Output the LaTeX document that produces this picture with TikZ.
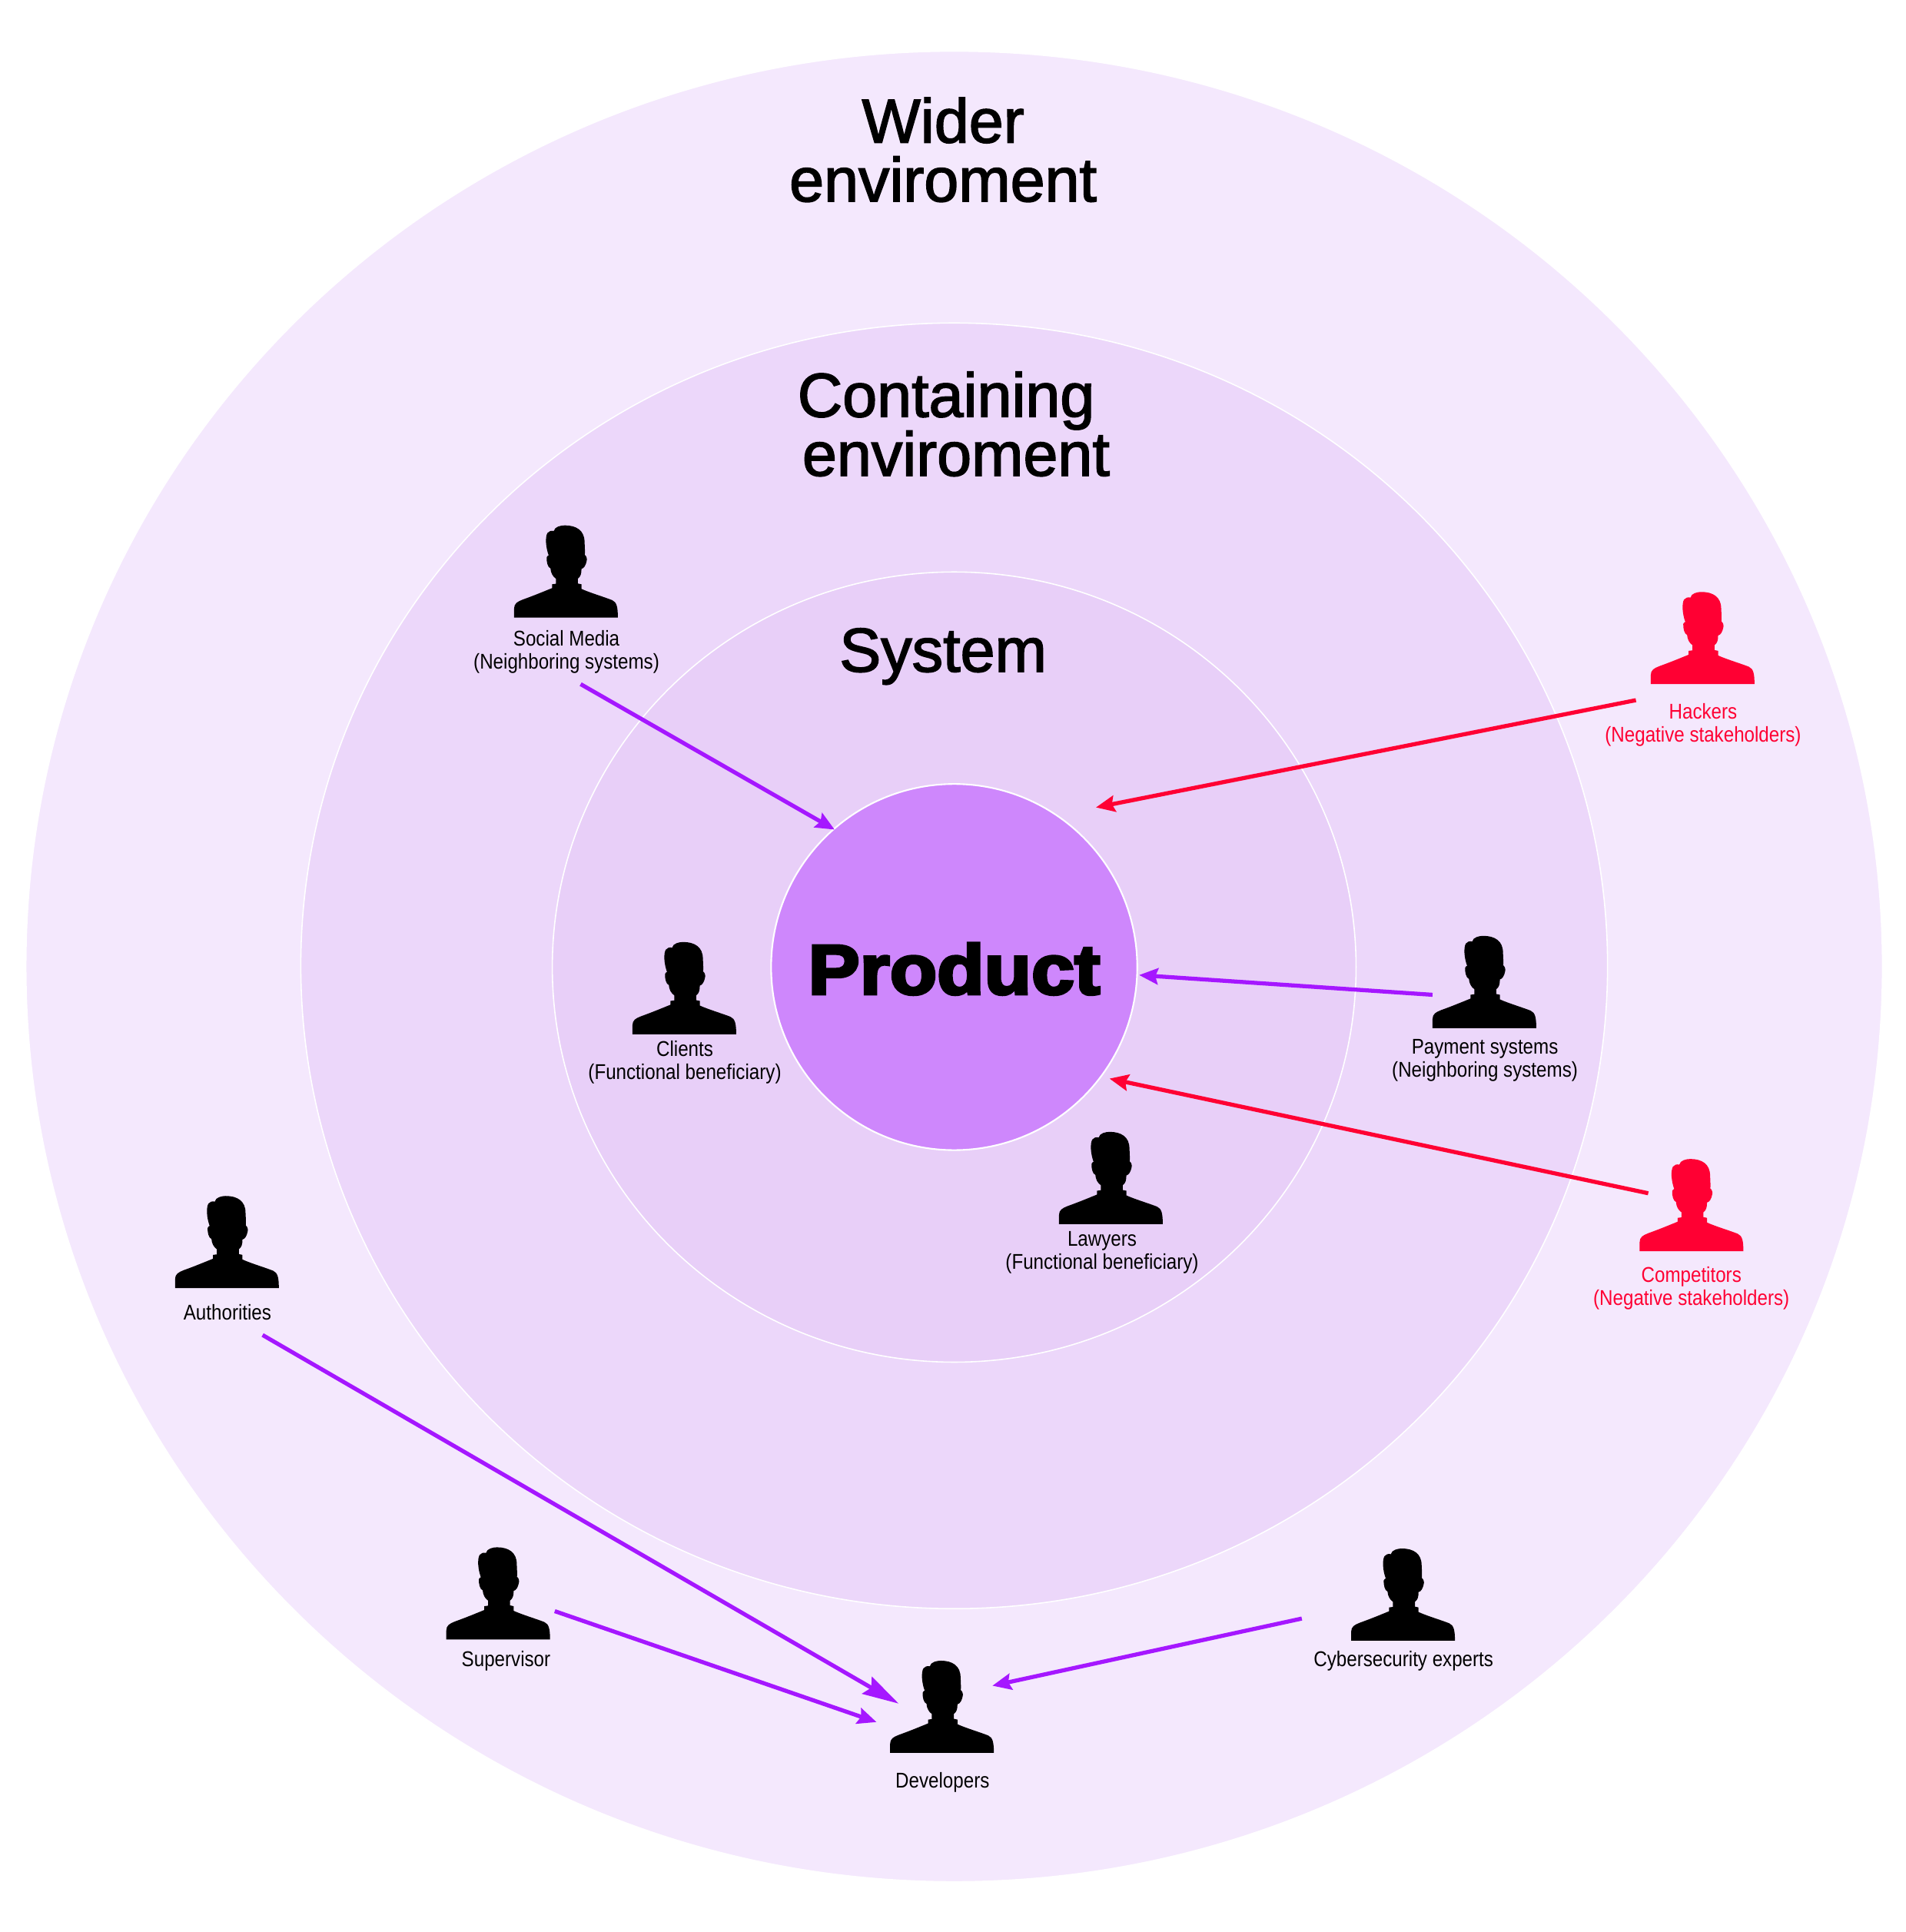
\documentclass[tikz,border=0pt]{standalone}
\usepackage{fontspec}
\usetikzlibrary{arrows.meta}
\setmainfont{Liberation Sans}
\newfontfamily\labfont[FakeStretch=0.87]{Liberation Sans}
\newfontfamily\headfont[FakeBold=2]{Liberation Sans}
\newfontfamily\prodfont[FakeBold=4.2,FakeStretch=1.1]{Liberation Sans Bold}
\definecolor{wider}{HTML}{F4E8FD}
\definecolor{contain}{HTML}{ECD7FA}
\definecolor{sys}{HTML}{E8CFF8}
\definecolor{prod}{HTML}{CE87FC}
\definecolor{arrowp}{HTML}{A517FF}
\definecolor{arrowr}{HTML}{FF0033}
\tikzset{
  x=0.01604cm,y=-0.01604cm,
  ring/.style={draw=white,line width=0.45pt},
  lab/.style={font=\labfont\fontsize{7.9}{8.6}\selectfont,align=center,inner sep=0pt},
  neg/.style={lab,text=arrowr},
  head/.style={font=\headfont\fontsize{23}{21.8}\selectfont,align=center,inner sep=0pt},
  link/.style={arrowp,line width=1.5pt,-{Stealth[length=7pt,width=6pt,inset=1pt]}},
  biglink/.style={arrowp,line width=1.5pt,-{Stealth[length=13.5pt,width=7.2pt,inset=1.8pt]}},
  neglink/.style={link,draw=arrowr,arrowr},
  pics/person/.style={code={
    \fill[#1,scale=0.2078,shift={(-409,-490)}]
    (207,490) -- (207,455) .. controls (207,435) and (220,428) .. (240,420)
    .. controls (290,402) and (330,385) .. (355,375) -- (355,360) -- (370,358) -- (370,338)
    .. controls (358,330) and (350,315) .. (349,298)
    .. controls (338,295) and (333,270) .. (334,255)
    .. controls (335,250) and (340,248) .. (342,247)
    .. controls (330,215) and (328,175) .. (337,160)
    .. controls (342,152) and (352,150) .. (362,152)
    .. controls (365,135) and (390,130) .. (405,130)
    .. controls (450,130) and (482,150) .. (482,195)
    .. controls (483,215) and (484,235) .. (483,245)
    .. controls (490,250) and (493,262) .. (490,270)
    .. controls (487,285) and (480,298) .. (470,300)
    .. controls (470,318) and (467,330) .. (456,338) -- (456,357) -- (470,360) -- (470,378)
    .. controls (500,392) and (560,410) .. (590,422)
    .. controls (608,430) and (612,450) .. (612,490) -- cycle;
  }}
}
\begin{document}
\begin{tikzpicture}
\useasboundingbox (0,0) rectangle (1546.1,1567.3);
\fill[white] (0,0) rectangle (1546.1,1567.3);
% rings
\path[ring,fill=wider] (774,784) ellipse [x radius=753,y radius=742.5];
\path[ring,fill=contain] (774,783.5) ellipse [x radius=530,y radius=521.5];
\path[ring,fill=sys] (774,784.5) ellipse [x radius=326,y radius=320.5];
\path[ring,fill=prod,line width=0.6pt] (774,784.5) circle [radius=148.5];
% headings
\node[head] (hwider) at (765,121.5) {Wider\\enviroment};
\node[head] (hcontain) at (775.5,344) {Containing\hspace*{7.3pt}\\enviroment};
\node[head] (hsystem) at (765,532.5) {System};
\node[font=\prodfont\fontsize{26}{26}\selectfont,inner sep=0pt] (product) at (774,786) {Product};
% people
\pic at (459,501) {person=black};
\pic at (1381,555) {person=arrowr};
\pic at (1204,834) {person=black};
\pic at (555,839) {person=black};
\pic at (901,993) {person=black};
\pic at (1372,1015) {person=arrowr};
\pic at (184,1045) {person=black};
\pic at (404,1330) {person=black};
\pic at (1138,1331) {person=black};
\pic at (764,1422) {person=black};
% labels
\node[lab] (social) at (459.5,529) {Social Media\\(Neighboring systems)};
\node[neg] (hackers) at (1381.5,588) {Hackers\\(Negative stakeholders)};
\node[lab] (payment) at (1204.5,860) {Payment systems\\(Neighboring systems)};
\node[lab] (clients) at (555.5,862) {Clients\\(Functional beneficiary)};
\node[lab] (lawyers) at (894,1016) {Lawyers\\(Functional beneficiary)};
\node[neg] (competitors) at (1372,1045) {Competitors\\(Negative stakeholders)};
\node[lab] (authorities) at (184.5,1064.5) {Authorities};
\node[lab] (supervisor) at (410.5,1347.5) {Supervisor};
\node[lab] (cyber) at (1138.5,1347.5) {Cybersecurity experts};
\node[lab] (developers) at (764.5,1446) {Developers};
% connector ends
\coordinate (a1s) at (471,555);  \coordinate (a1e) at (677,673);
\coordinate (a2s) at (1327,568); \coordinate (a2e) at (889,655);
\coordinate (a3s) at (1162,807); \coordinate (a3e) at (924,791);
\coordinate (a4s) at (1337,968); \coordinate (a4e) at (900,875);
\coordinate (a5s) at (213,1083); \coordinate (a5e) at (729,1382);
\coordinate (a6s) at (450,1307); \coordinate (a6e) at (711,1397);
\coordinate (a7s) at (1056,1313);\coordinate (a7e) at (805,1367.5);
\draw[link] (a1s) -- (a1e);
\draw[neglink] (a2s) -- (a2e);
\draw[link] (a3s) -- (a3e);
\draw[neglink] (a4s) -- (a4e);
\draw[biglink] (a5s) -- (a5e);
\draw[link] (a6s) -- (a6e);
\draw[link] (a7s) -- (a7e);
\end{tikzpicture}
\end{document}
